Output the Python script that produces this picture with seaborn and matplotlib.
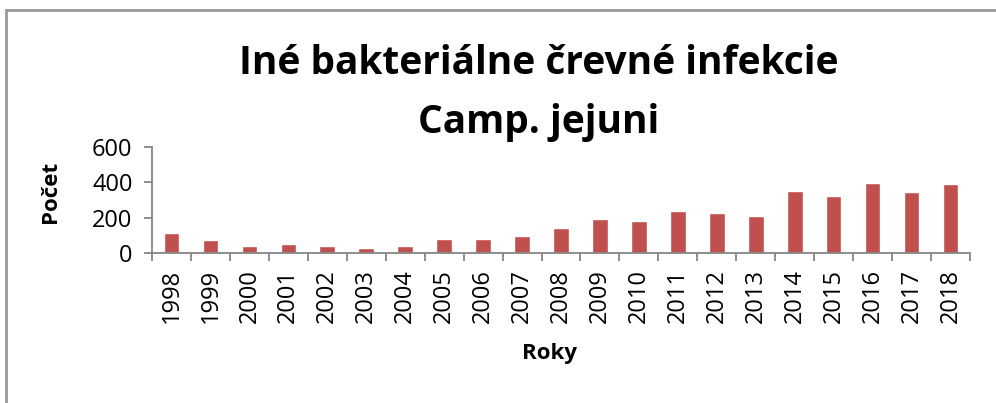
import pandas as pd
import seaborn as sns
import matplotlib.pyplot as plt
from matplotlib.ticker import FixedLocator

# Data
years = [str(y) for y in range(1998, 2019)]
counts = [114, 71, 40, 51, 38, 31, 40, 78, 82, 97, 140, 190, 180, 235,
          224, 207, 349, 323, 395, 348, 391]

title_line1 = "Iné bakteriálne črevné infekcie"
title_line2 = "Camp. jejuni"
ylabel = "Počet"
xlabel = "Roky"

df = pd.DataFrame({"rok": years, "pocet": counts})

sns.set_style("white")
plt.rcParams['font.family'] = ['Open Sans', 'DejaVu Sans']
plt.rcParams['text.color'] = 'black'

fig = plt.figure(figsize=(9.96, 4.03), dpi=100)
ax = fig.add_axes([152 / 996, 1 - 253 / 403, (970 - 152) / 996, (253 - 147) / 403])

sns.barplot(data=df, x="rok", y="pocet", color="#C0504D", width=0.4,
            saturation=1, ax=ax)

ax.set_ylim(0, 600)
ax.set_xlim(-0.5, len(years) - 0.5)
ax.set_yticks([0, 200, 400, 600])
ax.set_xlabel("")
ax.set_ylabel("")

grey = "#868686"
for s in ["top", "right"]:
    ax.spines[s].set_visible(False)
for s in ["left", "bottom"]:
    ax.spines[s].set_color(grey)
    ax.spines[s].set_linewidth(1.3)

ax.tick_params(axis="y", which="major", left=True, length=6, width=1.3,
               color=grey, labelsize=17, labelcolor="black", pad=8)
ax.tick_params(axis="x", which="major", bottom=False, labelsize=17,
               labelcolor="black", labelrotation=90, pad=8)
ax.xaxis.set_minor_locator(FixedLocator([i - 0.5 for i in range(len(years) + 1)]))
ax.tick_params(axis="x", which="minor", bottom=True, length=6, width=1.3,
               color=grey)

fig.text(0.541, 1 - 63 / 403, title_line1, ha="center", va="center",
         fontsize=28, fontweight="bold", color="black")
fig.text(0.541, 1 - 122 / 403, title_line2, ha="center", va="center",
         fontsize=28, fontweight="bold", color="black")
fig.text(50 / 996, 1 - 192 / 403, ylabel, ha="center", va="center",
         rotation=90, fontsize=16, fontweight="bold", color="black")
fig.text(549 / 996, 1 - 353 / 403, xlabel, ha="center", va="center",
         fontsize=16, fontweight="bold", color="black")

# chart frame (left and top edges visible in the reference)
fig.add_artist(plt.Line2D([6 / 996, 6 / 996], [0, 1 - 10 / 403],
                          color="#999999", lw=2, transform=fig.transFigure))
fig.add_artist(plt.Line2D([6 / 996, 1], [1 - 10 / 403, 1 - 10 / 403],
                          color="#999999", lw=2, transform=fig.transFigure))

fig.savefig("out.png", dpi=100)
